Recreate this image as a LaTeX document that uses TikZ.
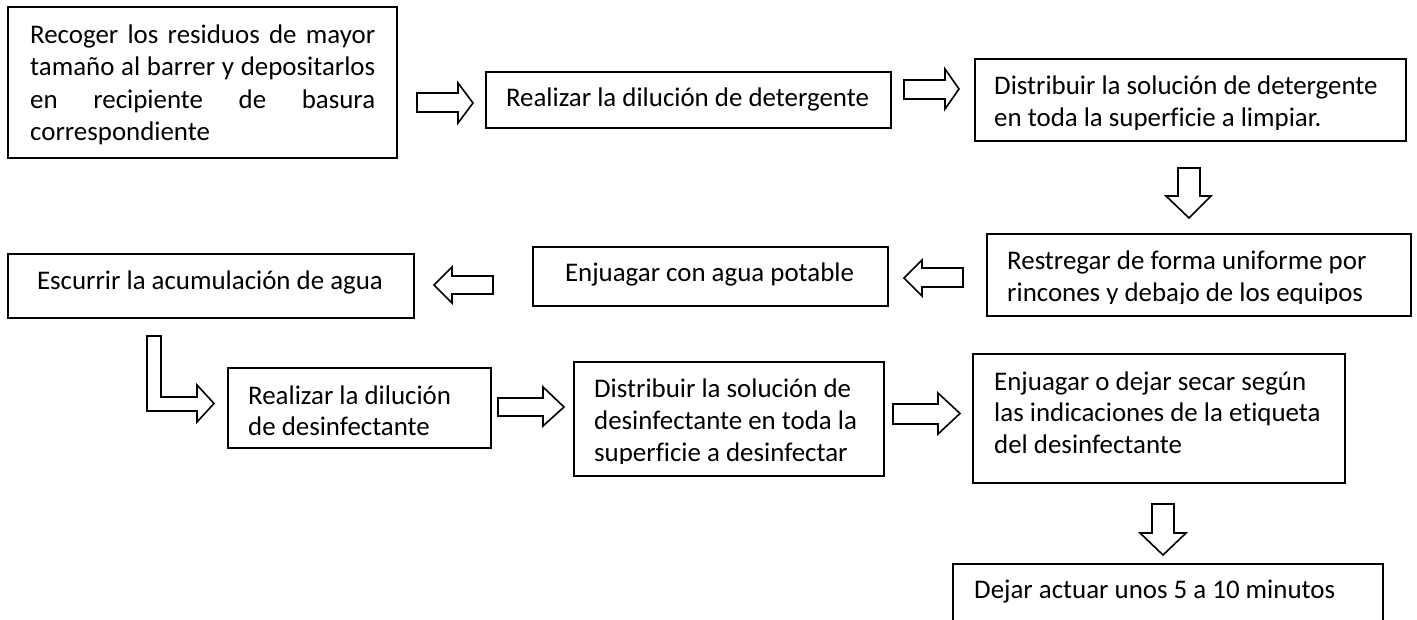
\documentclass[tikz,border=0pt]{standalone}
\usepackage{fontspec}
\setmainfont{Carlito}[Ligatures=NoCommon]
\newcommand\fsz{\fontsize{26.9}{32.3}\selectfont}
\newcommand\fst{\fontsize{26.9}{31.7}\selectfont}
\newcommand\sr{\rule{0pt}{24pt}}
\begin{document}
\begin{tikzpicture}[x=1pt,y=-1pt,
  box/.style={draw=black, line width=1.9pt, inner sep=0pt, anchor=north west},
  blk/.style={draw=black, line width=1.6pt, fill=white, line join=miter},
  txt/.style={inner sep=0pt, anchor=north west, font=\fsz, align=left},
  ctxt/.style={inner sep=0pt, anchor=base, font=\fsz}]
\useasboundingbox (0,0) rectangle (1417,620);
\fill[white] (0,0) rectangle (1417,620);
\clip (0,0) rectangle (1417,620);

% boxes
\node[box, minimum width=389pt, minimum height=151pt] (b1) at (7,6) {};
\node[box, minimum width=405pt, minimum height=56pt] (b2) at (485,71) {};
\node[box, minimum width=431pt, minimum height=82pt] (b3) at (974,58) {};
\node[box, minimum width=424pt, minimum height=82pt] (b4) at (986,233) {};
\node[box, minimum width=355pt, minimum height=59pt] (b5) at (532,246) {};
\node[box, minimum width=406pt, minimum height=64pt] (b6) at (7,253) {};
\node[box, minimum width=263pt, minimum height=80pt] (b7) at (227,367) {};
\node[box, minimum width=310pt, minimum height=114pt] (b8) at (573,361) {};
\node[box, minimum width=372pt, minimum height=129pt] (b9) at (972,353) {};
\node[box, minimum width=430pt, minimum height=90pt] (b10) at (952,563) {};

% texts
\node[txt, text width=345pt, align=justify] (t1) at (30,19.3)
  {\sr Recoger los residuos de mayor\linebreak tamaño al barrer y depositarlos\linebreak en recipiente de basura\linebreak correspondiente};
\node[ctxt] (t2) at (687.5,107) {Realizar la dilución de detergente};
\begin{scope}
  \clip (975,59) rectangle (1404,129.5);
  \node[txt] (t3) at (994,70.5) {\sr Distribuir la solución de detergente\\en toda la superficie a limpiar.};
\end{scope}
\begin{scope}
  \clip (987,234) rectangle (1409,304);
  \node[txt] (t4) at (1007,245.3) {\sr Restregar de forma uniforme por\\rincones y debajo de los equipos};
\end{scope}
\node[ctxt] (t5) at (709.5,281.7) {Enjuagar con agua potable};
\node[ctxt] (t6) at (210,290) {Escurrir la acumulación de agua};
\node[txt, font=\fst] (t7) at (248,380) {\sr Realizar la dilución\\de desinfectante};
\begin{scope}
  \clip (574,362) rectangle (882,463.5);
  \node[txt] (t8) at (594,373) {\sr Distribuir la solución de\\desinfectante en toda la\\superficie a desinfectar};
\end{scope}
\node[txt, font=\fst] (t9) at (994,366) {\sr Enjuagar o dejar secar según\\las indicaciones de la etiqueta\\del desinfectante};
\node[ctxt, anchor=base west] (t10) at (974,598) {Dejar actuar unos 5 a 10 minutos};

% block arrows
\draw[blk] (417,93) -- (458,93) -- (458,83) -- (473,103) -- (458,123) -- (458,112) -- (417,112) -- cycle;
\draw[blk] (904,80) -- (945,80) -- (945,69) -- (959,89) -- (945,109) -- (945,99) -- (904,99) -- cycle;
\draw[blk] (1178,168) -- (1200,168) -- (1200,196) -- (1211,196) -- (1189,218) -- (1166,196) -- (1178,196) -- cycle;
\draw[blk] (963,268) -- (963,287) -- (922,287) -- (922,296) -- (904,278) -- (922,260) -- (922,268) -- cycle;
\draw[blk] (493,276) -- (493,294) -- (452,294) -- (452,303) -- (434,285) -- (452,267) -- (452,276) -- cycle;
\draw[blk] (147,336) -- (161,336) -- (161,397) -- (197,397) -- (197,385) -- (214,403.5) -- (197,422) -- (197,411) -- (147,411) -- cycle;
\draw[blk] (498,398) -- (543,398) -- (543,387) -- (564,407) -- (543,426) -- (543,416) -- (498,416) -- cycle;
\draw[blk] (893,404) -- (938,404) -- (938,393) -- (960,413.5) -- (938,434) -- (938,424) -- (893,424) -- cycle;
\draw[blk] (1152,504) -- (1174,504) -- (1174,533) -- (1186,533) -- (1163,555) -- (1140,533) -- (1152,533) -- cycle;
\end{tikzpicture}
\end{document}
